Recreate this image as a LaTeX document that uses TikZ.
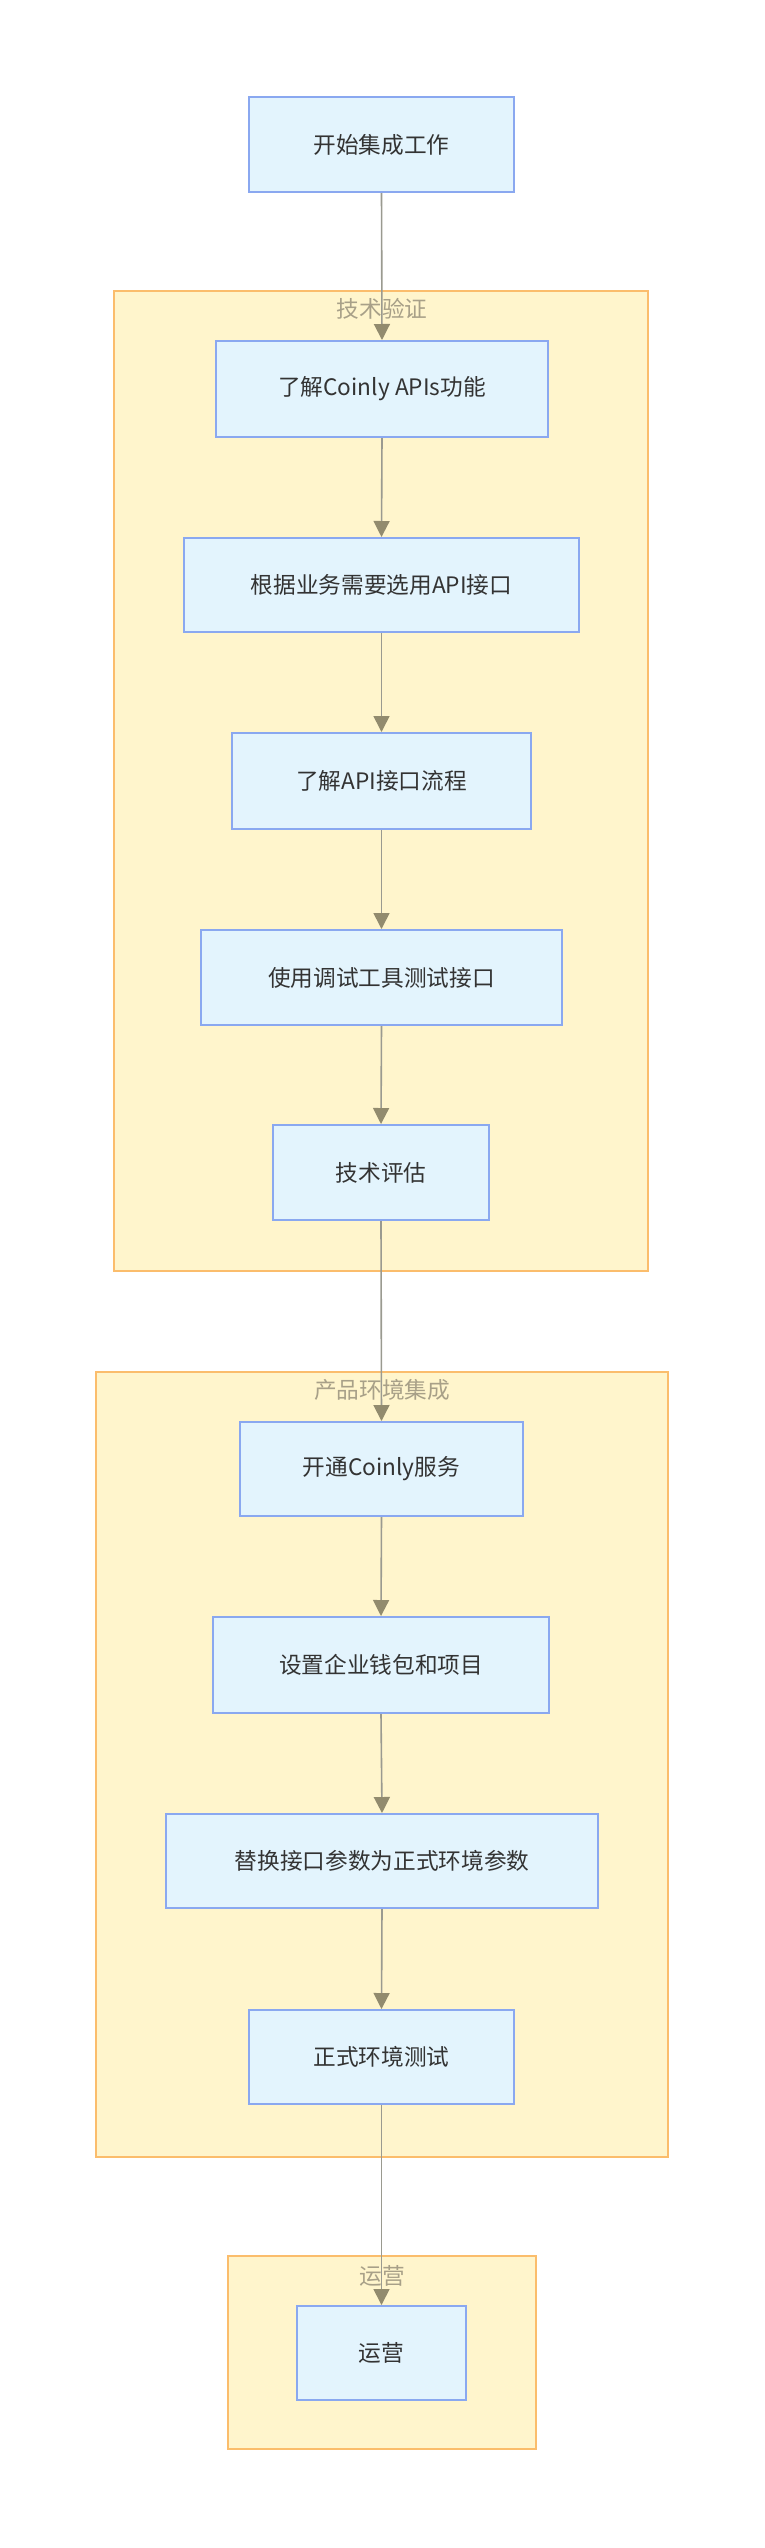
\documentclass[tikz,border=0pt]{standalone}
\usepackage{fontspec}
\setmainfont{Noto Sans CJK SC}
\usetikzlibrary{arrows.meta}
\definecolor{nfill}{HTML}{E3F4FD}
\definecolor{nline}{HTML}{8AA8F0}
\definecolor{cfill}{HTML}{FFF5CC}
\definecolor{cline}{HTML}{FBBD6C}
\definecolor{ctext}{HTML}{A8A088}
\definecolor{eline}{HTML}{9A9A90}
\definecolor{etip}{HTML}{928B6E}
\begin{document}
\begin{tikzpicture}[x=0.75pt,y=-0.75pt,
  box/.style={draw=nline,fill=nfill,line width=1.5pt,font=\fontsize{17}{20}\selectfont,text=black!80},
  clus/.style={draw=cline,fill=cfill,line width=1.5pt},
  clab/.style={font=\fontsize{17}{20}\selectfont,text=ctext},
  e/.style={draw=eline,line width=1.2pt,-{Triangle[length=12pt,width=12pt,fill=etip,color=etip]}}]
\useasboundingbox (0,0) rectangle (764,2548);
\fill[white] (0,0) rectangle (764,2548);
\draw[clus] (114,291) rectangle (648,1271);
\draw[clus] (96,1372) rectangle (668,2157);
\draw[clus] (228,2256) rectangle (536,2449);
\node[clab] (l1) at (382,309) {技术验证};
\node[clab] (l2) at (382,1390) {产品环境集成};
\node[clab] (l3) at (382,2276) {运营};
\newcommand{\bx}[6]{\node[box,minimum width={(#3-#2)*0.75pt},minimum height={(#5-#4)*0.75pt},inner sep=0pt] (#1) at ({(#2+#3)/2},{(#4+#5)/2}) {#6};}
\bx{a}{249}{514}{97}{192}{开始集成工作}
\bx{b}{216}{548}{341}{437}{了解Coinly APIs功能}
\bx{c}{184}{579}{538}{632}{根据业务需要选用API接口}
\bx{d}{232}{531}{733}{829}{了解API接口流程}
\bx{f}{201}{562}{930}{1025}{使用调试工具测试接口}
\bx{g}{273}{489}{1125}{1220}{技术评估}
\bx{h}{240}{523}{1422}{1516}{开通Coinly服务}
\bx{i}{213}{549}{1617}{1713}{设置企业钱包和项目}
\bx{j}{166}{598}{1814}{1908}{替换接口参数为正式环境参数}
\bx{k}{249}{514}{2010}{2104}{正式环境测试}
\bx{m}{297}{466}{2306}{2400}{运营}
\foreach \s/\t in {a/b,b/c,c/d,d/f,f/g,g/h,h/i,i/j,j/k,k/m}
  \draw[e] (\s.south) -- (\t.north);
\end{tikzpicture}
\end{document}
